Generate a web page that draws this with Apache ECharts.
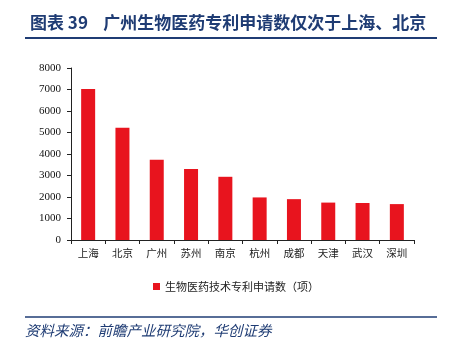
<!DOCTYPE html>
<html>
<head>
<meta charset="utf-8">
<script src="https://cdn.jsdelivr.net/npm/echarts@6/dist/echarts.min.js"></script>
<style>
    html, body { margin: 0; padding: 0; background: #fff; }
    #main { width: 454px; height: 352px; }
</style>
</head>
<body>
<div id="main"></div>
<script>
    // 城市 & 专利申请数（项）
    var cityList = ['上海', '北京', '广州', '苏州', '南京', '杭州', '成都', '天津', '武汉', '深圳'];
    var patentList = [7020, 5220, 3730, 3300, 2940, 1980, 1900, 1740, 1720, 1670];
    var yTicks = [0, 1000, 2000, 3000, 4000, 5000, 6000, 7000, 8000];
    var seriesName = '生物医药技术专利申请数（项）';

    var blue = '#1f3c74';
    var cjk = '"Noto Sans CJK SC", sans-serif';
    var serifNum = '"Liberation Serif", serif';

    var myChart = echarts.init(document.getElementById('main'));
    myChart.setOption({
        animation: false,
        title: {
            text: '图表 39    广州生物医药专利申请数仅次于上海、北京',
            left: 25,
            top: 9,
            textStyle: {
                color: blue,
                fontSize: 17,
                fontWeight: 'bold',
                fontFamily: cjk
            }
        },
        graphic: [
            {
                type: 'line',
                shape: { x1: 25, y1: 38, x2: 437, y2: 38 },
                style: { stroke: blue, lineWidth: 2 }
            },
            {
                type: 'line',
                shape: { x1: 25, y1: 317, x2: 437, y2: 317 },
                style: { stroke: blue, lineWidth: 1.5 }
            },
            {
                type: 'text',
                left: 25,
                top: 323,
                style: {
                    text: '资料来源：前瞻产业研究院，华创证券',
                    fill: blue,
                    font: 'italic 14.5px ' + cjk
                }
            }
        ],
        legend: {
            data: [seriesName],
            left: 148,
            top: 276,
            icon: 'rect',
            itemWidth: 7,
            itemHeight: 7,
            itemGap: 2,
            textStyle: { fontSize: 11, color: '#222', fontFamily: cjk }
        },
        grid: {
            left: 71,
            right: 40,
            top: 68,
            bottom: 112
        },
        xAxis: {
            type: 'category',
            data: cityList,
            axisLine: { lineStyle: { color: '#222' } },
            axisTick: { show: true, inside: false, length: 4, lineStyle: { color: '#222' } },
            axisLabel: { color: '#222', fontSize: 10.5, margin: 8, fontFamily: cjk }
        },
        yAxis: {
            type: 'value',
            min: yTicks[0],
            max: yTicks[yTicks.length - 1],
            interval: 1000,
            splitLine: { show: false },
            axisLine: { show: true, lineStyle: { color: '#222' } },
            axisTick: { show: true, length: 4, lineStyle: { color: '#222' } },
            axisLabel: {
                color: '#111',
                fontSize: 11,
                margin: 10,
                fontFamily: serifNum,
                formatter: function (v) { return String(v); }
            }
        },
        series: [
            {
                name: seriesName,
                type: 'bar',
                data: patentList,
                barWidth: 14,
                itemStyle: { color: '#e8141e' }
            }
        ]
    });
</script>
</body>
</html>
